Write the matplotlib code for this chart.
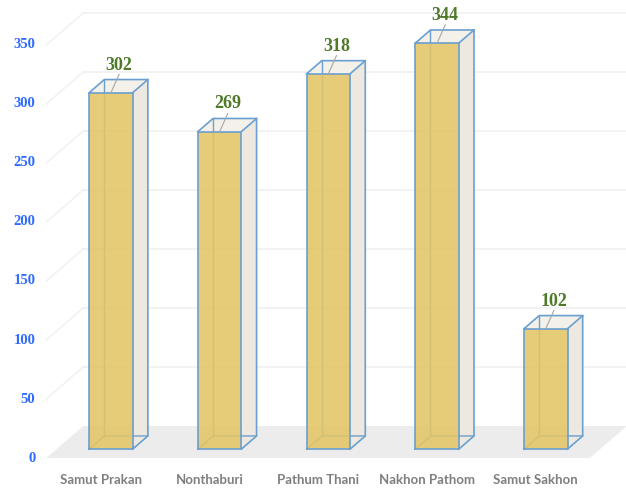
import matplotlib
matplotlib.use("Agg")
import matplotlib.pyplot as plt
from matplotlib.patches import Polygon

provinces = ["Samut Prakan", "Nonthaburi", "Pathum Thani", "Nakhon Pathom", "Samut Sakhon"]
counts = [302, 269, 318, 344, 102]
yticks = [0, 50, 100, 150, 200, 250, 300, 350]

# depth projection (category units, value units)
DX, DY = 0.34, 27.1
F_FRONT, F_BACK = 0.28, 0.69
BAR_W = 0.40

FACE = "#e3c566"
SIDE = "#ede9e0"
TOP = "#f4f1ea"
EDGE = "#6a9fd0"
FLOOR = "#ececec"
GRID = "#f0f0f0"

fig = plt.figure(figsize=(6.26, 4.88), dpi=100)
ax = fig.add_axes([0, 0, 1, 1])
ax.set_xlim(-0.9255, 4.833)
ax.set_ylim(-25.4, 388.1)
ax.axis("off")

n = len(provinces)
x_lo, x_hi = -0.5, n - 0.5

# floor
ax.add_patch(Polygon([(x_lo, 0), (x_hi, 0), (x_hi + DX, DY), (x_lo + DX, DY)],
                     closed=True, fc=FLOOR, ec="none", zorder=0))

# back wall grid + side diagonals
for t in yticks[1:]:
    ax.plot([x_lo + DX, x_hi + DX], [t + DY, t + DY], color=GRID, lw=1.2, zorder=0)
    ax.plot([x_lo, x_lo + DX], [t, t + DY], color=GRID, lw=1.0, zorder=0)

for t in yticks:
    ax.text(x_lo - 0.1, t, str(t), ha="right", va="center", color="#2f6bff",
            fontsize=10.5, fontweight="bold", family="Liberation Serif")


def box(i, v):
    fx, fy = F_FRONT * DX, F_FRONT * DY
    bx, by = F_BACK * DX, F_BACK * DY
    l, r = i + fx - BAR_W / 2, i + fx + BAR_W / 2
    ddx, ddy = bx - fx, by - fy
    b, t = fy, fy + v
    # right side and top faces
    ax.add_patch(Polygon([(r, b), (r + ddx, b + ddy), (r + ddx, t + ddy), (r, t)],
                         closed=True, fc=SIDE, ec="none", zorder=2))
    ax.add_patch(Polygon([(l, t), (r, t), (r + ddx, t + ddy), (l + ddx, t + ddy)],
                         closed=True, fc=TOP, ec="none", zorder=2))
    # hidden edges
    hid = dict(color=EDGE, lw=1.0, zorder=3)
    ax.plot([l + ddx, l + ddx], [b + ddy, t + ddy], **hid)
    ax.plot([l, l + ddx, r + ddx], [b, b + ddy, b + ddy], **hid)
    # front face
    ax.add_patch(Polygon([(l, b), (r, b), (r, t), (l, t)], closed=True,
                         fc=FACE, ec="none", alpha=0.88, zorder=4))
    # visible edges
    vis = dict(color=EDGE, lw=1.2, zorder=5)
    ax.plot([l, r, r, l, l], [b, b, t, t, b], **vis)
    ax.plot([r, r + ddx, r + ddx, r], [b, b + ddy, t + ddy, t], **vis)
    ax.plot([l, l + ddx, r + ddx], [t, t + ddy, t + ddy], **vis)
    # value label with leader line
    ax.plot([i + fx, i + 0.17], [t, v + 23], color="#a6a6a6", lw=0.8, zorder=6)
    ax.text(i + 0.17, v + 31, str(v), ha="center", va="center", color="#4e7a2a",
            fontsize=13, fontweight="bold", family="Liberation Serif", zorder=7)


for i, v in enumerate(counts):
    box(i, v)
    ax.text(i, -18.6, provinces[i], ha="center", va="center", color="#7f7f7f",
            fontsize=9.5, fontweight="bold", family=["Lato", "DejaVu Sans"])

fig.savefig("out.png", dpi=100)
